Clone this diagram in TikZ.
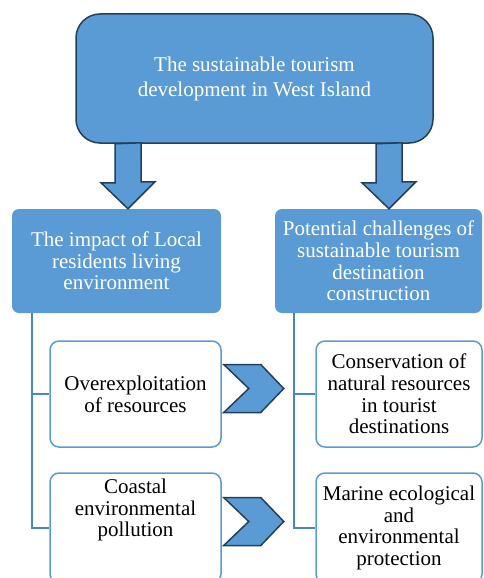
\documentclass[tikz,border=0pt]{standalone}
\usepackage{fontspec}
\setmainfont{Liberation Serif}
\usetikzlibrary{positioning}
\definecolor{boxblue}{HTML}{5B9BD5}
\definecolor{edgeblue}{HTML}{223F5B}
\definecolor{linkblue}{HTML}{4A86C5}

\tikzset{
	topbox/.style={draw=edgeblue, line width=1.5pt, fill=boxblue, rounded corners=24pt,
		text=white, align=center, inner sep=0pt, font=\fontsize{21}{25}\selectfont},
	midbox/.style={fill=boxblue, rounded corners=7pt, text=white, align=center,
		inner sep=0pt, font=\fontsize{21}{21.7}\selectfont},
	subbox/.style={draw=boxblue, line width=1.5pt, fill=white, rounded corners=9pt,
		align=center, inner sep=0pt, font=\fontsize{21}{21.7}\selectfont},
	subtext/.style={align=center, inner sep=0pt, font=\fontsize{21}{21.7}\selectfont},
	branch/.style={draw=linkblue, line width=1.6pt},
	bigarrow/.style={draw=edgeblue, line width=1.5pt, fill=boxblue, line join=miter},
}

% chevron to the right of a box
\newcommand{\rightchevron}[2]{
	\draw[bigarrow, shift={(#1)}] (2,#2-24) -- (39,#2-24) -- (62,#2) -- (39,#2+24)
		-- (2,#2+24) -- (27,#2) -- cycle;
}

\begin{document}
\begin{tikzpicture}[x=1pt, y=-1pt]
		\useasboundingbox (0,0) rectangle (483,578);
		\clip (0,0) rectangle (483,578);

		\node[topbox, minimum width=357pt, minimum height=129pt] (top) at (254.5,78.5)
			{The sustainable tourism\\development in West Island};

		\node[midbox, minimum width=209pt, minimum height=104pt] (imp) at (116.5,261)
			{The impact of Local\\residents living\\environment};
		\node[midbox, minimum width=207pt, minimum height=104pt] (chal) at (378.5,261)
			{Potential challenges of\\sustainable tourism\\destination\\construction};

%		arrows down from the top box
		\draw[bigarrow] (128,0 |- top.south) ++(-13,0) -- ++(0,39) -- ++(-14,0)
			-- (128,0 |- imp.north) -- ++(27,-27) -- ++(-14,0) -- ++(0,-39) -- cycle;
		\draw[bigarrow] (389,0 |- top.south) ++(-13,0) -- ++(0,39) -- ++(-14,0)
			-- (389,0 |- chal.north) -- ++(27,-27) -- ++(-14,0) -- ++(0,-39) -- cycle;

		\node[subbox, minimum width=171pt, minimum height=106pt] (over) at (135.5,394)
			{Overexploitation\\of resources};
		\node[subbox, minimum width=171pt, minimum height=110pt] (coast) at (135.5,528) {};
		\node[subtext] (coasttext) at (135.5,510) {Coastal\\environmental\\pollution};

		\node[subbox, minimum width=166pt, minimum height=106pt] (cons) at (399,394)
			{Conservation of\\natural resources\\in tourist\\destinations};
		\node[subbox, minimum width=166pt, minimum height=110pt] (marine) at (399,528)
			{Marine ecological\\and\\environmental\\protection};

		\draw[branch] (32,0 |- imp.south) |- (over.west);
		\draw[branch] (32,0 |- over.west) |- (coast.west);
		\draw[branch] (294,0 |- chal.south) |- (cons.west);
		\draw[branch] (294,0 |- cons.west) |- (marine.west);

		\rightchevron{over.east}{-5.5}
		\rightchevron{coast.east}{-6.5}
	\end{tikzpicture}
\end{document}
